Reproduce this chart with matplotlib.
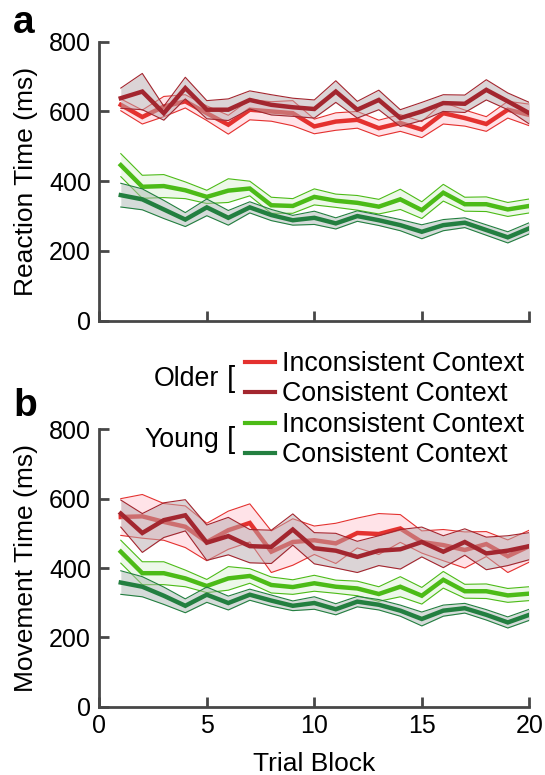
import matplotlib
matplotlib.use('Agg')
import matplotlib.pyplot as plt
import numpy as np
from matplotlib.lines import Line2D

plt.rcParams['font.family'] = ['Liberation Sans', 'DejaVu Sans']

trials = np.arange(1, 21)

# Panel a: Reaction time (ms), mean and SEM
rt_older_incons = [619, 584, 614, 629, 595, 562, 605, 600, 595, 557, 571, 576, 552, 567, 548, 595, 581, 564, 605, 590]
rt_older_incons_se = [17, 20, 29, 19, 21, 27, 29, 28, 36, 21, 25, 24, 23, 24, 23, 31, 23, 21, 24, 31]
rt_older_cons = [638, 657, 595, 667, 605, 605, 633, 619, 612, 607, 657, 605, 633, 581, 600, 624, 622, 662, 629, 595]
rt_older_cons_se = [29, 52, 20, 31, 26, 31, 26, 29, 26, 26, 31, 24, 28, 24, 26, 24, 25, 29, 24, 31]
rt_young_incons = [446, 384, 386, 374, 355, 373, 379, 331, 329, 355, 344, 338, 327, 348, 317, 367, 334, 334, 319, 329]
rt_young_incons_se = [33, 33, 33, 24, 19, 34, 21, 23, 21, 23, 19, 21, 21, 29, 24, 24, 20, 21, 20, 20]
rt_young_cons = [360, 348, 319, 290, 325, 295, 325, 303, 288, 295, 279, 300, 288, 274, 255, 274, 281, 260, 239, 265]
rt_young_cons_se = [34, 30, 26, 20, 24, 21, 16, 16, 14, 19, 16, 15, 15, 16, 20, 16, 14, 15, 16, 16]

# Panel b: Movement time (ms), mean and SEM
mt_older_incons = [547, 549, 533, 519, 475, 509, 530, 447, 475, 480, 471, 501, 498, 514, 475, 466, 452, 469, 434, 463]
mt_older_incons_se = [53, 63, 53, 60, 54, 55, 55, 60, 67, 41, 58, 43, 59, 40, 32, 45, 52, 36, 47, 46]
mt_older_cons = [557, 501, 538, 552, 473, 492, 463, 461, 511, 457, 450, 432, 450, 454, 475, 447, 475, 442, 450, 463]
mt_older_cons_se = [39, 56, 50, 45, 51, 54, 48, 48, 45, 45, 50, 45, 43, 57, 43, 46, 38, 47, 43, 39]
mt_young_incons = [447, 385, 385, 370, 348, 370, 377, 351, 345, 356, 346, 341, 325, 346, 320, 366, 333, 333, 321, 326]
mt_young_incons_se = [33, 33, 33, 24, 19, 34, 21, 23, 21, 23, 19, 21, 21, 29, 24, 24, 20, 21, 20, 20]
mt_young_cons = [358, 346, 320, 291, 323, 299, 323, 306, 291, 299, 281, 303, 294, 277, 253, 277, 284, 265, 243, 265]
mt_young_cons_se = [34, 29, 25, 20, 22, 20, 16, 16, 14, 18, 16, 15, 15, 16, 20, 16, 14, 15, 16, 16]

y_ticks = [0, 200, 400, 600, 800]
x_ticks = [0, 5, 10, 15, 20]
legend_groups = ['Older', 'Young']
legend_labels = ['Inconsistent Context', 'Consistent Context']

c_red = '#E4312F'
c_dred = '#A3262F'
c_green = '#4CBB17'
c_dgreen = '#237F40'
fill_red = '#FFC9D2'
fill_dred = '#B8ABAF'
fill_green = '#DDF2D4'
fill_dgreen = '#ADB9B4'
spine_c = '#474747'

W, H = 545, 775
fig = plt.figure(figsize=(W / 100, H / 100), dpi=100)

def px(x0, y0, x1, y1):
    return [x0 / W, 1 - y1 / H, (x1 - x0) / W, (y1 - y0) / H]

ax_a = fig.add_axes(px(99.3, 41.7, 529.3, 320.7))
ax_b = fig.add_axes(px(99.3, 429.3, 529.3, 706.7))

def series(ax, m, se, line_c, fill_c):
    m = np.array(m, float)
    se = np.array(se, float)
    ax.fill_between(trials, m - se, m + se, color=fill_c, alpha=0.5, lw=0, zorder=2)
    ax.plot(trials, m - se, color=line_c, lw=0.8, zorder=2)
    ax.plot(trials, m + se, color=line_c, lw=0.8, zorder=2)
    ax.plot(trials, m, color=line_c, lw=3.2, zorder=2, solid_joinstyle='miter')

def style(ax, ylabel, show_xlabels):
    ax.set_xlim(0, 20)
    ax.set_ylim(0, 800)
    for s in ['top', 'right']:
        ax.spines[s].set_visible(False)
    for s in ['left', 'bottom']:
        ax.spines[s].set_color(spine_c)
        ax.spines[s].set_linewidth(2.0)
    ax.set_xticks(x_ticks)
    ax.set_yticks(y_ticks)
    ax.tick_params(direction='in', length=7, width=2.0, color=spine_c, labelsize=18, pad=6)
    ax.tick_params(axis='x', pad=5)
    if not show_xlabels:
        ax.set_xticklabels([])
    ax.set_ylabel(ylabel, fontsize=19)
    ax.yaxis.set_label_coords(-0.142, 0.5)
    ax.patch.set_alpha(0)

for ax, data in [
    (ax_a, [(rt_older_incons, rt_older_incons_se, c_red, fill_red),
            (rt_older_cons, rt_older_cons_se, c_dred, fill_dred),
            (rt_young_incons, rt_young_incons_se, c_green, fill_green),
            (rt_young_cons, rt_young_cons_se, c_dgreen, fill_dgreen)]),
    (ax_b, [(mt_young_incons, mt_young_incons_se, c_green, fill_green),
            (mt_young_cons, mt_young_cons_se, c_dgreen, fill_dgreen),
            (mt_older_incons, mt_older_incons_se, c_red, fill_red),
            (mt_older_cons, mt_older_cons_se, c_dred, fill_dred)])]:
    for m, se, lc, fc in data:
        series(ax, m, se, lc, fc)

style(ax_a, 'Reaction Time (ms)', False)
style(ax_b, 'Movement Time (ms)', True)
ax_b.set_xlabel('Trial Block', fontsize=19, labelpad=10)

# panel letters
fig.text(13 / W, 1 - 23 / H, 'a', fontsize=28, fontweight='bold', va='center', ha='left')
fig.text(13 / W, 1 - 406 / H, 'b', fontsize=28, fontweight='bold', va='center', ha='left')

# legend
rows_y = [364, 394, 425, 455]
row_colors = [c_red, c_dred, c_green, c_dgreen]
for i, (yy, cc) in enumerate(zip(rows_y, row_colors)):
    fig.add_artist(Line2D([245 / W, 275 / W], [1 - (yy - 2) / H, 1 - (yy - 2) / H], color=cc, lw=3.0,
                          transform=fig.transFigure))
    fig.text(282 / W, 1 - yy / H, legend_labels[i % 2], fontsize=19.3, va='center', ha='left')
for g, (name, yy) in enumerate(zip(legend_groups, [379, 440])):
    fig.text(219 / W, 1 - yy / H, name, fontsize=19.3, va='center', ha='right')
    fig.text(227 / W, 1 - yy / H, '[', fontsize=21, va='center', ha='left')

fig.savefig('out.png', dpi=100)
